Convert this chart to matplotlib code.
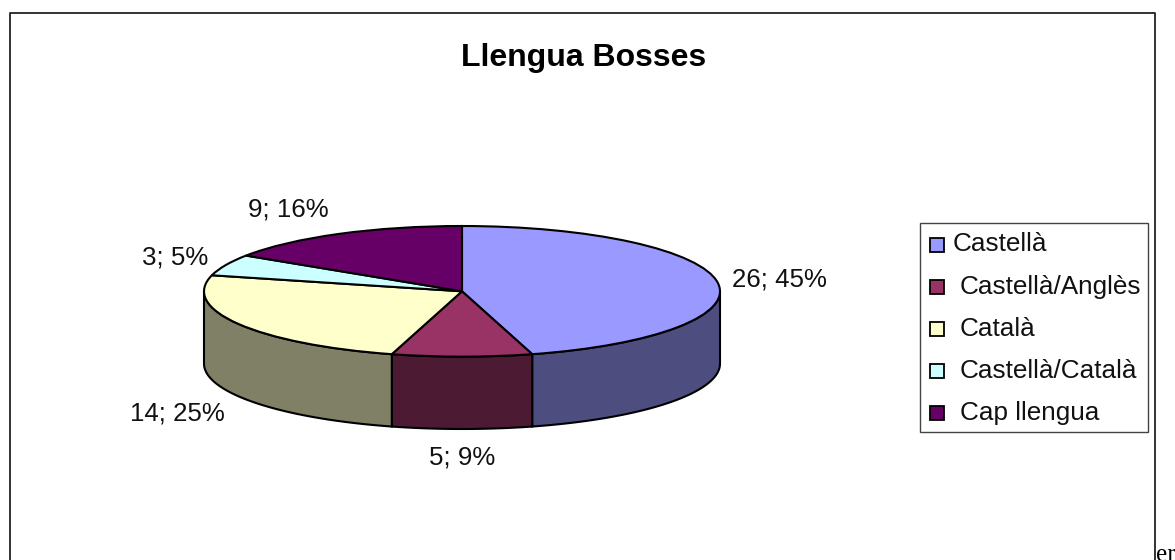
import numpy as np
import matplotlib
matplotlib.use('Agg')
import matplotlib.pyplot as plt
from matplotlib.patches import Rectangle

plt.rcParams['font.family'] = ['Liberation Sans', 'DejaVu Sans']

W, H = 1175, 560

# chart data
names = ['Castellà', 'Castellà/Anglès', 'Català', 'Castellà/Català', 'Cap llengua']
values = [26, 5, 14, 3, 9]
percents = [45, 9, 25, 5, 16]
colors = ['#9999FF', '#993366', '#FFFFCC', '#CCFFFF', '#660066']
wall_colors = ['#4D4D80', '#4D1A33', '#808066', '#668080', '#330033']

# label centres in pixels, same order as values
label_pos = [(779, 280), (462, 458), (177, 414), (175, 258), (288, 210)]

fig = plt.figure(figsize=(W / 100, H / 100), dpi=100)

# pixel overlay for the frame, title, labels and legend
bg = fig.add_axes([0, 0, 1, 1])
bg.set_xlim(0, W)
bg.set_ylim(H, 0)
bg.axis('off')

# outer frame runs off the bottom of the image
bg.plot([10, 10, 1155, 1155], [H + 5, 13, 13, H + 5], color='#222222', lw=1.3, clip_on=True)
bg.text(584, 58, 'Llengua Bosses', fontsize=23, fontweight='bold', ha='center', va='center')
bg.text(1156, 561, 'er', fontsize=18, family='Liberation Serif', ha='left', va='baseline', clip_on=True)

# pie, squashed, with the wall hanging under it
left, right, top, bottom = 204, 720, 226, 429
depth = 72 / 65
ax = fig.add_axes([left / W, 1 - bottom / H, (right - left) / W, (bottom - top) / H])
ax.patch.set_alpha(0)

edges = np.cumsum([0] + values) / sum(values) * 2 * np.pi
for i in range(len(values)):
    a0 = max(edges[i], np.pi / 2)
    a1 = min(edges[i + 1], 3 * np.pi / 2)
    if a1 <= a0:
        continue
    t = np.linspace(a0, a1, 60)
    xs = np.sin(t)
    ys = np.cos(t)
    ax.fill(np.r_[xs, xs[::-1]], np.r_[ys, ys[::-1] - depth],
            facecolor=wall_colors[i], edgecolor='black', lw=1.5, clip_on=False)

ax.pie(values, colors=colors, startangle=90, counterclock=False, radius=1,
       wedgeprops=dict(edgecolor='black', linewidth=1.5, clip_on=False))
ax.set_aspect('auto')
ax.set_xlim(-1, 1)
ax.set_ylim(-1 - depth, 1)
ax.axis('off')

for v, p, (x, y) in zip(values, percents, label_pos):
    bg.text(x, y, f'{v}; {p}%', fontsize=18.6, ha='center', va='center', color='#111111')

# legend box
bg.add_patch(Rectangle((920, 223), 228, 209, facecolor='white', edgecolor='#444444', lw=1))
key_y = [245, 287, 329, 371, 413]
text_x = [953, 960, 960, 960, 960]
text_y = [244, 287, 329, 371, 413]
for name, c, y, tx, ty in zip(names, colors, key_y, text_x, text_y):
    bg.add_patch(Rectangle((930, y - 7), 14, 14, facecolor=c, edgecolor='black', lw=1.3))
    bg.text(tx, ty, name, fontsize=18.8, ha='left', va='center', color='#111111')

fig.savefig('out.png', dpi=100)
